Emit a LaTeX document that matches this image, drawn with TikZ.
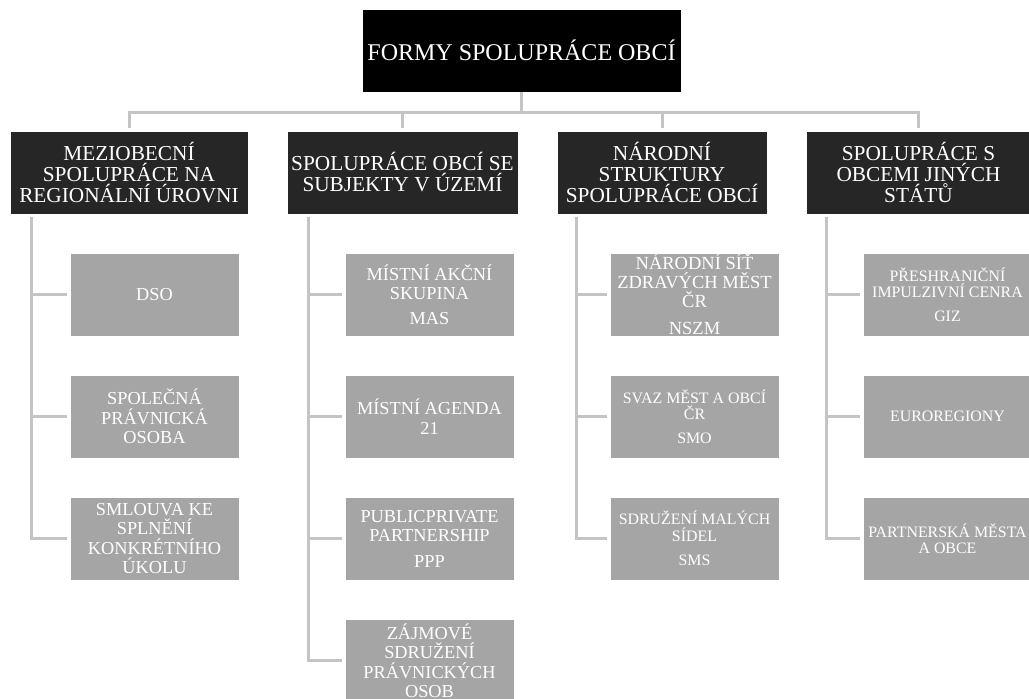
\documentclass[tikz,border=0pt]{standalone}
\usepackage{fontspec}
\setmainfont{Liberation Serif}
\definecolor{topfill}{HTML}{000000}
\definecolor{lonefill}{HTML}{262626}
\definecolor{childfill}{HTML}{A5A5A5}
\definecolor{conncol}{HTML}{C4C4C4}
\begin{document}
\begin{tikzpicture}[x=1pt,y=-1pt,
 box/.style={rectangle, inner sep=0pt, align=center, text=white, draw=white, line width=0.6pt},
 topbox/.style={box, fill=topfill, minimum width=319pt, minimum height=83pt, font=\fontsize{24}{26}\selectfont},
 lone/.style={box, fill=lonefill, minimum height=83pt, font=\fontsize{21.3}{21}\selectfont},
 child/.style={box, fill=childfill, minimum width=169pt, minimum height=83pt, font=\fontsize{18.3}{19.5}\selectfont},
 midchild/.style={child, font=\fontsize{18.5}{19}\selectfont},
 smallchild/.style={child, font=\fontsize{15.9}{16.5}\selectfont},
 conn/.style={draw=conncol, line width=3pt},
]
\useasboundingbox (0,0) rectangle (1029,699);

\node[topbox] (top) at (521.5,50.5) {FORMY SPOLUPRÁCE OBCÍ};

\node[lone, minimum width=238pt] (a) at (129,172.5) {MEZIOBECNÍ\\SPOLUPRÁCE NA\\REGIONÁLNÍ ÚROVNI};
\node[lone, minimum width=231pt] (b) at (402.5,172.5) {SPOLUPRÁCE OBCÍ SE\\SUBJEKTY V ÚZEMÍ};
\node[lone, minimum width=210pt] (c) at (662,172.5) {NÁRODNÍ\\STRUKTURY\\SPOLUPRÁCE OBCÍ};
\node[lone, minimum width=225pt] (d) at (918.5,172.5) {SPOLUPRÁCE S\\OBCEMI JINÝCH\\STÁTŮ};

\node[child] (a1) at (154.5,294.5) {DSO};
\node[child] (a2) at (154.5,416.5) {SPOLEČNÁ\\PRÁVNICKÁ\\OSOBA};
\node[child] (a3) at (154.5,538.5) {SMLOUVA KE\\SPLNĚNÍ\\KONKRÉTNÍHO\\ÚKOLU};

\node[child] (b1) at (429.5,294.5) {MÍSTNÍ AKČNÍ\\SKUPINA\\[5pt]MAS};
\node[child] (b2) at (429.5,416.5) {MÍSTNÍ AGENDA\\21};
\node[child] (b3) at (429.5,538.5) {PUBLICPRIVATE\\PARTNERSHIP\\[6pt]PPP};
\node[child] (b4) at (429.5,660.5) {ZÁJMOVÉ\\SDRUŽENÍ\\PRÁVNICKÝCH\\OSOB};

\node[midchild] (c1) at (694.5,294.5) {NÁRODNÍ SÍŤ\\ZDRAVÝCH MĚST\\ČR\\[8pt]NSZM};
\node[smallchild] (c2) at (694.5,416.5) {SVAZ MĚST A OBCÍ\\ČR\\[7pt]SMO};
\node[smallchild] (c3) at (694.5,538.5) {SDRUŽENÍ MALÝCH\\SÍDEL\\[8pt]SMS};

\node[smallchild] (d1) at (947.5,294.5) {PŘESHRANIČNÍ\\IMPULZIVNÍ CENRA\\[7pt]GIZ};
\node[smallchild] (d2) at (947.5,416.5) {EUROREGIONY};
\node[smallchild] (d3) at (947.5,538.5) {PARTNERSKÁ MĚSTA\\A OBCE};

\foreach \n in {a,b,c,d}
  \draw[conn] (top.south) -- ++(0,20) -| ([yshift=3pt]\n.north);

\foreach \c in {a1,a2,a3}
  \draw[conn] ([xshift=22pt,yshift=-3pt]a.south west) |- ([xshift=-3pt]\c.west);
\foreach \c in {b1,b2,b3,b4}
  \draw[conn] ([xshift=22pt,yshift=-3pt]b.south west) |- ([xshift=-3pt]\c.west);
\foreach \c in {c1,c2,c3}
  \draw[conn] ([xshift=20pt,yshift=-3pt]c.south west) |- ([xshift=-3pt]\c.west);
\foreach \c in {d1,d2,d3}
  \draw[conn] ([xshift=21pt,yshift=-3pt]d.south west) |- ([xshift=-3pt]\c.west);
\end{tikzpicture}
\end{document}
